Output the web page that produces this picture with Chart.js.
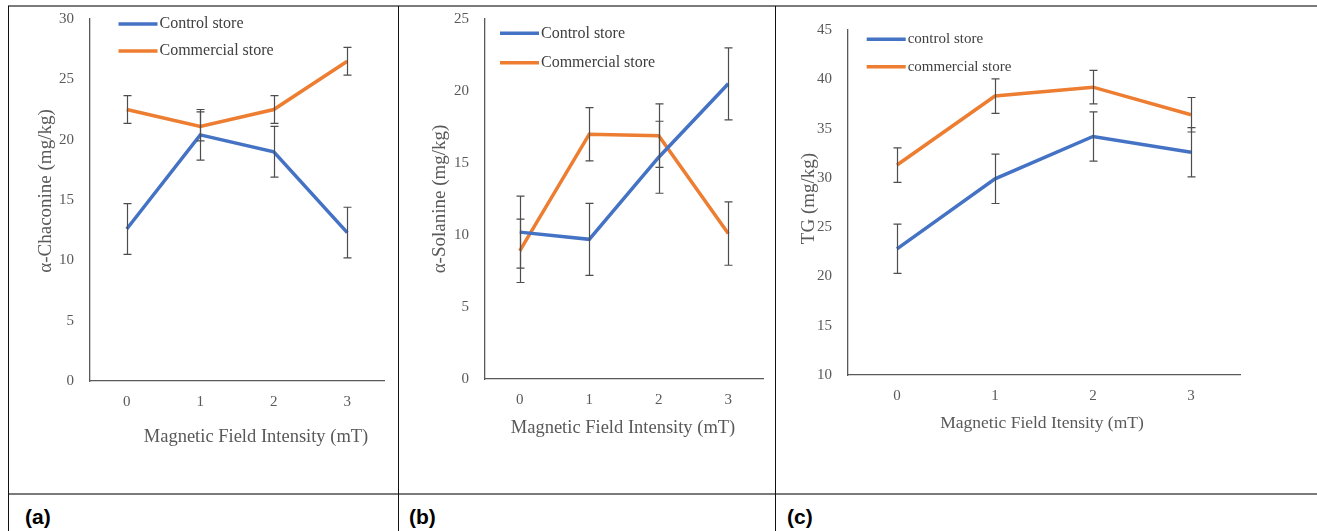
<!DOCTYPE html>
<html>
<head>
<meta charset="utf-8">
<script src="https://cdn.jsdelivr.net/npm/chart.js@4.4.0/dist/chart.umd.min.js"></script>
<style>
  body{margin:0;background:#fff;width:1317px;height:531px;overflow:hidden;position:relative}
  .hl{position:absolute;left:8px;right:0;height:2px;background:#7a7a7a}
  .vl{position:absolute;top:6px;bottom:0;width:1px;background:#111}
  .tag{position:absolute;top:505px;line-height:24px;font:bold 21px 'Liberation Sans',Arial,sans-serif;color:#000}
  canvas{position:absolute}
</style>
</head>
<body>
<div class="hl" style="top:5px"></div>
<div class="hl" style="top:493px"></div>
<div class="vl" style="left:8px"></div>
<div class="vl" style="left:398px"></div>
<div class="vl" style="left:775px"></div>
<div class="tag" style="left:25px">(a)</div>
<div class="tag" style="left:409px">(b)</div>
<div class="tag" style="left:787px">(c)</div>
<canvas id="ca" width="389" height="504" style="left:9px;top:-11px"></canvas>
<canvas id="cb" width="376" height="504" style="left:399px;top:-11px"></canvas>
<canvas id="cc" width="541" height="493" style="left:776px;top:0px"></canvas>
<script>
const intensity = ['0', '1', '2', '3'];

const chaconineControl = [12.6, 20.4, 19.0, 12.3];
const chaconineControlErr = [2.1, 2.1, 2.1, 2.1];
const chaconineCommercial = [22.5, 21.1, 22.5, 26.5];
const chaconineCommercialErr = [1.15, 1.2, 1.15, 1.15];
const chaconineTicks = [0, 5, 10, 15, 20, 25, 30];

const solanineControl = [10.2, 9.7, 15.4, 20.5];
const solanineControlErr = [2.5, 2.5, 2.5, 2.5];
const solanineCommercial = [8.9, 17.0, 16.9, 10.1];
const solanineCommercialErr = [2.2, 1.85, 2.2, 2.2];
const solanineTicks = [0, 5, 10, 15, 20, 25];

const tgControl = [22.8, 29.9, 34.2, 32.6];
const tgControlErr = [2.5, 2.5, 2.5, 2.5];
const tgCommercial = [31.3, 38.3, 39.2, 36.4];
const tgCommercialErr = [1.75, 1.75, 1.7, 1.75];
const tgTicks = [10, 15, 20, 25, 30, 35, 40, 45];

const BLUE = '#4472C4', ORANGE = '#ED7D31', GREY = '#595959';
const SERIF = "'Liberation Serif','Times New Roman',serif";

// error bars, legend and axis titles drawn on top of the chart
const decor = {
  id: 'decor',
  afterDatasetsDraw(chart) {
    const { ctx, scales: { x, y } } = chart;
    ctx.save();
    ctx.strokeStyle = '#4d4d4d';
    ctx.lineWidth = 1.2;
    chart.data.datasets.forEach(ds => {
      ds.errors.forEach((e, i) => {
        const px = Math.round(x.getPixelForValue(i)) + 0.5;
        const t = y.getPixelForValue(ds.data[i] + e);
        const b = y.getPixelForValue(ds.data[i] - e);
        ctx.beginPath();
        ctx.moveTo(px, t); ctx.lineTo(px, b);
        ctx.moveTo(px - 4, t); ctx.lineTo(px + 4, t);
        ctx.moveTo(px - 4, b); ctx.lineTo(px + 4, b);
        ctx.stroke();
      });
    });
    ctx.restore();
  },
  afterDraw(chart, args, o) {
    const { ctx, chartArea: a } = chart;
    ctx.save();
    // legend
    ctx.font = o.legendSize + 'px ' + SERIF;
    ctx.textBaseline = 'middle';
    ctx.fillStyle = '#404040';
    chart.data.datasets.forEach((ds, i) => {
      const ly = a.top + o.legendRows[i];
      const lx = a.left + o.legendX;
      ctx.strokeStyle = ds.borderColor;
      ctx.lineWidth = 3.5;
      ctx.beginPath();
      ctx.moveTo(lx, ly); ctx.lineTo(lx + 39, ly);
      ctx.stroke();
      ctx.fillText(ds.label, lx + 41, ly);
    });
    // axis titles
    ctx.fillStyle = GREY;
    ctx.textAlign = 'center';
    ctx.font = o.xTitleSize + 'px ' + SERIF;
    ctx.fillText(o.xTitle, (a.left + a.right) / 2 + o.xTitleDx, a.bottom + o.xTitleDy);
    ctx.translate(a.left + o.yTitleDx, (a.top + a.bottom) / 2 + o.yTitleDy);
    ctx.rotate(-Math.PI / 2);
    ctx.font = o.yTitleSize + 'px ' + SERIF;
    ctx.fillText(o.yTitle, 0, 0);
    ctx.restore();
  }
};

function panel(id, p) {
  new Chart(document.getElementById(id), {
    type: 'line',
    data: {
      labels: intensity,
      datasets: [
        { label: p.names[0], data: p.control, errors: p.controlErr, borderColor: BLUE },
        { label: p.names[1], data: p.commercial, errors: p.commercialErr, borderColor: ORANGE }
      ].map(d => Object.assign(d, { borderWidth: 3.5, pointRadius: 0, tension: 0, fill: false }))
    },
    options: {
      responsive: false,
      devicePixelRatio: 1,
      animation: false,
      // top padding larger than the y tick label overflow, so it sets the chart top
      layout: { padding: { left: 0, top: 30, right: p.padRight, bottom: 0 } },
      plugins: {
        legend: { display: false },
        tooltip: { enabled: false },
        decor: p.decor
      },
      scales: {
        x: {
          offset: true,
          grid: { display: false, drawTicks: false },
          border: { display: true, color: GREY, width: 1.3 },
          ticks: { color: GREY, padding: 12, font: { family: SERIF, size: 15 } },
          afterFit: s => { s.height = p.xH; }
        },
        y: {
          min: p.ticks[0],
          max: p.ticks[p.ticks.length - 1],
          grid: { display: false, drawTicks: false },
          border: { display: true, color: GREY, width: 1.3 },
          ticks: { stepSize: p.ticks[1] - p.ticks[0], color: GREY, padding: 16, font: { family: SERIF, size: 15 } },
          afterFit: s => { s.width = p.yW; }
        }
      }
    },
    plugins: [decor]
  });
}

panel('ca', {
  names: ['Control store', 'Commercial store'],
  control: chaconineControl, controlErr: chaconineControlErr,
  commercial: chaconineCommercial, commercialErr: chaconineCommercialErr,
  ticks: chaconineTicks,
  padRight: 14, yW: 81, xH: 112,
  decor: {
    legendSize: 16, legendX: 28.5, legendRows: [5, 32],
    xTitle: 'Magnetic Field Intensity (mT)', xTitleSize: 18.5, xTitleDx: 19, xTitleDy: 56,
    yTitle: 'α-Chaconine (mg/kg)', yTitleSize: 19, yTitleDx: -44, yTitleDy: -9
  }
});

panel('cb', {
  names: ['Control store', 'Commercial store'],
  control: solanineControl, controlErr: solanineControlErr,
  commercial: solanineCommercial, commercialErr: solanineCommercialErr,
  ticks: solanineTicks,
  padRight: 12, yW: 86, xH: 114,
  decor: {
    legendSize: 16, legendX: 15, legendRows: [14.3, 43.7],
    xTitle: 'Magnetic Field Intensity (mT)', xTitleSize: 18.5, xTitleDx: -1, xTitleDy: 49,
    yTitle: 'α-Solanine (mg/kg)', yTitleSize: 19, yTitleDx: -45, yTitleDy: 0
  }
});

panel('cc', {
  names: ['control store', 'commercial store'],
  control: tgControl, controlErr: tgControlErr,
  commercial: tgCommercial, commercialErr: tgCommercialErr,
  ticks: tgTicks,
  padRight: 77, yW: 72, xH: 118,
  decor: {
    legendSize: 15, legendX: 18.7, legendRows: [9.3, 36.7],
    xTitle: 'Magnetic Field Itensity (mT)', xTitleSize: 17.5, xTitleDx: -2, xTitleDy: 48,
    yTitle: 'TG (mg/kg)', yTitleSize: 19, yTitleDx: -39, yTitleDy: -4
  }
});
</script>
</body>
</html>
